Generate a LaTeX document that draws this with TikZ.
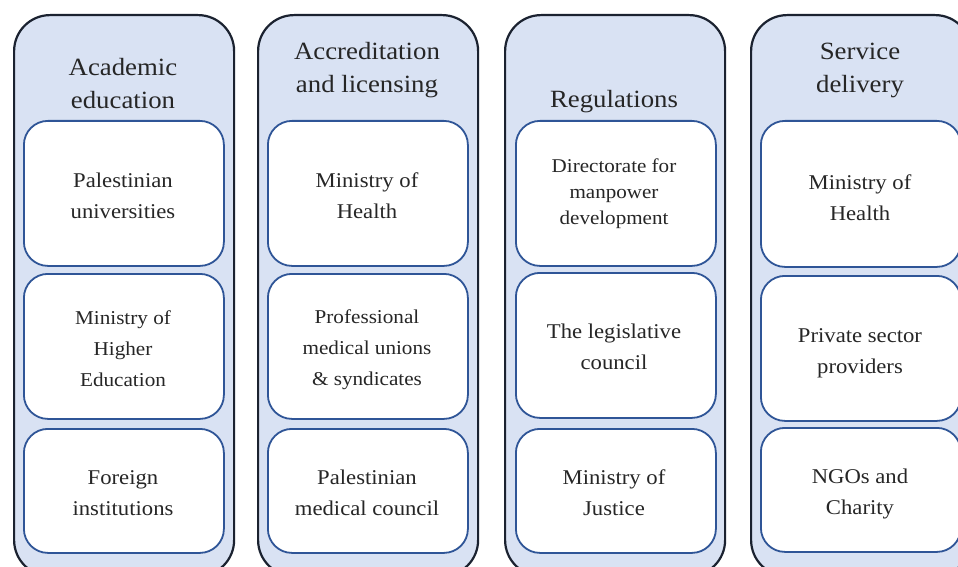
\documentclass[tikz,border=0pt]{standalone}
\usepackage{fontspec}
\setmainfont[FakeStretch=1.08]{Liberation Serif}
\definecolor{outerfill}{HTML}{D9E2F3}
\definecolor{outerline}{HTML}{1B2230}
\definecolor{innerline}{HTML}{2F5597}
\begin{document}
\begin{tikzpicture}[x=1pt,y=-1pt,
  outer/.style={draw=outerline, fill=outerfill, line width=2.2pt, rounded corners=36pt,
    minimum width=220pt, minimum height=561pt, anchor=north west, inner sep=0pt},
  inner/.style={draw=innerline, fill=white, line width=1.8pt, rounded corners=24pt,
    minimum width=200pt, anchor=north west, inner sep=0pt},
  head/.style={align=center, font=\fontsize{24.8}{33}\selectfont, text=black!85},
  body/.style={align=center, font=\fontsize{21}{31}\selectfont, text=black!85},
  bodys/.style={align=center, font=\fontsize{19.6}{31}\selectfont, text=black!85},
  bodyt/.style={align=center, font=\fontsize{19.5}{26}\selectfont, text=black!85}]
\useasboundingbox (0,0) rectangle (958,567);
\clip (0,0) rectangle (958,567);
% columns
\node[outer] (c1) at (13,14) {};
\node[outer] (c2) at (257,14) {};
\node[outer] (c3) at (504,14) {};
\node[outer] (c4) at (750,14) {};
% headers
\node[head] (h1) at (123,84) {Academic\\education};
\node[head] (h2) at (367,70) {Accreditation\\and licensing};
\node[head] (h3) at (614,102) {Regulations};
\node[head] (h4) at (860,70) {Service\\delivery};
% column 1
\node[inner, minimum height=145pt] (b11) at (23,120) {};
\node[inner, minimum height=145pt] (b12) at (23,273) {};
\node[inner, minimum height=124pt] (b13) at (23,428) {};
\node[body] at (123,196) {Palestinian\\universities};
\node[bodys] at (123,349) {Ministry of\\Higher\\Education};
\node[body] at (123,493) {Foreign\\institutions};
% column 2
\node[inner, minimum height=145pt] (b21) at (267,120) {};
\node[inner, minimum height=145pt] (b22) at (267,273) {};
\node[inner, minimum height=124pt] (b23) at (267,428) {};
\node[body] at (367,196) {Ministry of\\Health};
\node[bodys] at (367,350) {Professional\\medical unions\\\&\ syndicates};
\node[body] at (367,493) {Palestinian\\medical council};
% column 3
\node[inner, minimum height=145pt] (b31) at (515,120) {};
\node[inner, minimum height=145pt] (b32) at (515,272) {};
\node[inner, minimum height=124pt] (b33) at (515,428) {};
\node[bodyt] at (614,194) {Directorate for\\manpower\\development};
\node[body] at (614,347) {The legislative\\council};
\node[body] at (614,493) {Ministry of\\Justice};
% column 4
\node[inner, minimum height=146pt] (b41) at (760,120) {};
\node[inner, minimum height=145pt] (b42) at (760,275) {};
\node[inner, minimum height=124pt] (b43) at (760,427) {};
\node[body] at (860,198) {Ministry of\\Health};
\node[body] at (860,353) {Private sector\\providers};
\node[body] at (860,494) {NGOs and\\Charity};
\end{tikzpicture}
\end{document}
